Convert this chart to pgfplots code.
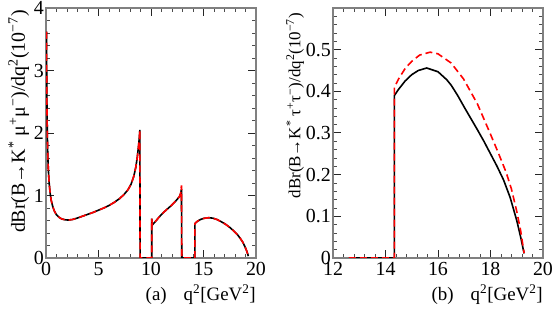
\documentclass[border=0pt]{standalone}
\usepackage{fontspec}
\setmainfont{Liberation Serif}
\usepackage{pgfplots}
\pgfplotsset{compat=1.18}
\pgfplotstableread{
x y
0.045 3.62
0.06 3.15
0.08 2.65
0.1 2.3
0.13 1.95
0.17 1.65
0.22 1.42
0.3 1.2
0.4 1.03
0.5 0.92
0.65 0.82
0.8 0.75
1.0 0.69
1.25 0.65
1.5 0.625
1.8 0.612
2.1 0.607
2.5 0.615
3.0 0.64
3.5 0.67
4.0 0.70
4.5 0.73
5.0 0.765
5.5 0.80
6.0 0.84
6.5 0.89
7.0 0.95
7.4 1.01
7.8 1.09
8.1 1.18
8.35 1.30
8.55 1.45
8.7 1.62
8.82 1.80
8.9 1.95
8.94 2.05
8.96 0
10.07 0
10.07 0.63
10.13 0.53
10.4 0.58
10.8 0.66
11.2 0.73
11.6 0.79
12.0 0.85
12.4 0.92
12.7 0.98
12.83 1.03
12.9 1.10
12.93 0
14.18 0
14.18 0.55
14.4 0.585
14.7 0.615
15.0 0.633
15.5 0.645
15.9 0.637
16.3 0.615
16.7 0.58
17.1 0.54
17.5 0.49
17.9 0.43
18.2 0.38
18.5 0.315
18.75 0.25
18.95 0.18
19.1 0.12
19.2 0.07
19.27 0.03
}\mumuBlack
\pgfplotstableread{
x y
0.045 3.62
0.06 3.15
0.08 2.65
0.1 2.3
0.13 1.95
0.17 1.65
0.22 1.42
0.3 1.2
0.4 1.03
0.5 0.92
0.65 0.82
0.8 0.75
1.0 0.69
1.25 0.65
1.5 0.625
1.8 0.612
2.1 0.607
2.5 0.615
3.0 0.64
3.5 0.67
4.0 0.70
4.5 0.73
5.0 0.765
5.5 0.80
6.0 0.84
6.5 0.89
7.0 0.95
7.4 1.01
7.8 1.09
8.1 1.18
8.35 1.30
8.55 1.45
8.7 1.62
8.82 1.80
8.9 1.95
8.94 2.05
8.96 0
10.07 0
10.07 0.63
10.13 0.53
10.4 0.58
10.8 0.66
11.2 0.73
11.6 0.79
12.0 0.85
12.4 0.92
12.7 0.98
12.83 1.04
12.9 1.16
12.93 0
14.18 0
14.18 0.55
14.4 0.585
14.7 0.615
15.0 0.633
15.5 0.645
15.9 0.637
16.3 0.615
16.7 0.58
17.1 0.54
17.5 0.49
17.9 0.43
18.2 0.38
18.5 0.315
18.75 0.25
18.95 0.18
19.1 0.12
19.2 0.07
19.27 0.03
}\mumuRed
\pgfplotstableread{
x y
12.6 0
14.34 0
14.34 0.39
14.5 0.405
14.75 0.425
15.0 0.44
15.25 0.45
15.57 0.456
16.0 0.447
16.33 0.428
16.5 0.415
16.75 0.39
17.0 0.362
17.25 0.335
17.5 0.308
17.75 0.28
18.0 0.25
18.25 0.22
18.5 0.187
18.75 0.145
19.0 0.09
19.15 0.05
19.28 0.011
}\tautauBlack
\pgfplotstableread{
x y
12.6 0
14.34 0
14.34 0.41
14.5 0.43
14.75 0.455
15.0 0.472
15.3 0.487
15.7 0.494
16.0 0.49
16.5 0.468
16.97 0.43
17.5 0.37
17.98 0.30
18.3 0.252
18.6 0.205
18.8 0.165
19.0 0.112
19.15 0.065
19.28 0.012
}\tautauRed
\begin{document}
\begin{tikzpicture}
\path[use as bounding box] (0bp,0bp) rectangle (554bp,310bp);
\pgfplotsset{
  mystyle/.style={
    scale only axis, width=210bp, height=250bp,
    anchor=south west,
    axis line style={line width=1.2bp, black!50},
    major tick length=8bp, minor tick length=4bp,
    every tick/.style={line width=1bp, black!85},
    every minor tick/.append style={line width=0.8bp, black!70},
    minor tick num=4,
    tick label style={font=\fontsize{20}{22}\selectfont},
    yticklabel style={inner sep=2bp},
    xticklabel style={inner sep=2bp, yshift=-2bp},
    xlabel style={font=\fontsize{19}{22}\selectfont, at={(axis description cs:1,0)}, anchor=base east, yshift=-42bp, inner sep=0pt},
  },
  blk/.style={black, line width=1.6bp},
  red/.style={color={rgb,255:red,255;green,0;blue,0}, line width=1.6bp, dash pattern=on 7bp off 4bp},
}
\begin{axis}[mystyle, at={(46bp,52bp)},
  xmin=0, xmax=20, ymin=0, ymax=4,
  xtick={0,5,10,15,20}, xticklabels={0,5,10,15,20},
  ytick={0,1,2,3,4}, yticklabels={0,1,2,3,4},
  xlabel={(a)\hspace{17bp}q\textsuperscript{2}[GeV\textsuperscript{2}]},
  ylabel={dBr(B→K\textsuperscript{*} μ\textsuperscript{+}μ\textsuperscript{−})/dq\textsuperscript{2}(10\textsuperscript{−7})},
  ylabel style={font=\fontsize{20}{22}\selectfont, at={(axis description cs:-0.1,0.992)}, anchor=base east, inner sep=0pt},
]
\addplot[blk] table[x=x,y=y] {\mumuBlack};
\addplot[red] table[x=x,y=y] {\mumuRed};
\end{axis}
\begin{axis}[mystyle, at={(333bp,52bp)},
  xmin=12, xmax=20, ymin=0, ymax=0.6,
  xtick={12,14,16,18,20}, xticklabels={12,14,16,18,20},
  ytick={0,0.1,0.2,0.3,0.4,0.5,0.6}, yticklabels={0,0.1,0.2,0.3,0.4,0.5,{}},
  xlabel={(b)\hspace{17bp}q\textsuperscript{2}[GeV\textsuperscript{2}]},
  ylabel={dBr(B→K\textsuperscript{*} τ\textsuperscript{+}τ\textsuperscript{−})/dq\textsuperscript{2}(10\textsuperscript{−7})},
  ylabel style={font=\fontsize{17}{20}\selectfont, at={(axis description cs:-0.155,0.98)}, anchor=base east, inner sep=0pt},
]
\addplot[blk] table[x=x,y=y] {\tautauBlack};
\addplot[red] table[x=x,y=y] {\tautauRed};
\end{axis}
\end{tikzpicture}
\end{document}
